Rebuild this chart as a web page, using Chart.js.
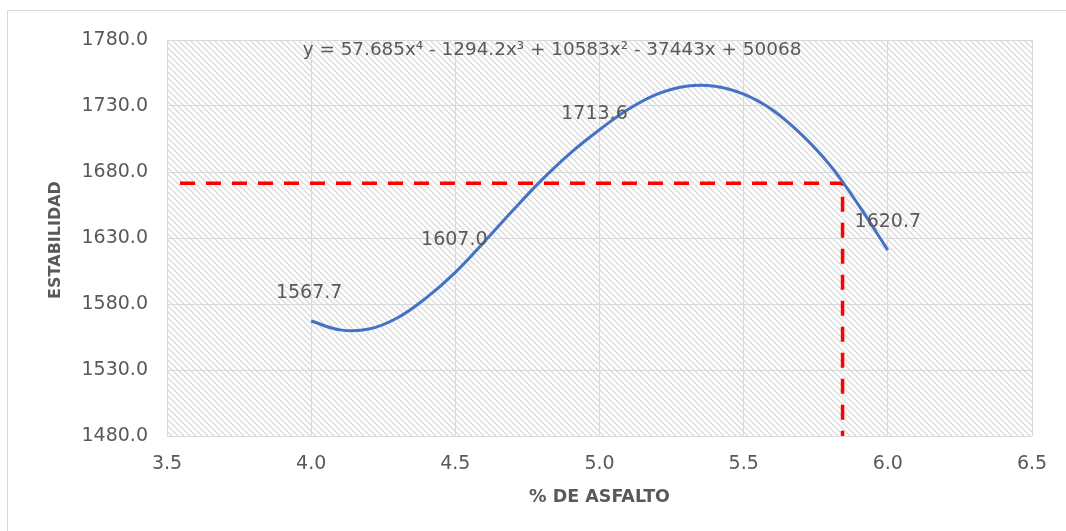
<!DOCTYPE html>
<html>
<head>
<meta charset="utf-8">
<script src="https://cdn.jsdelivr.net/npm/chart.js@4.4.1/dist/chart.umd.min.js"></script>
<style>
  html, body { margin: 0; padding: 0; background: #ffffff; }
  #wrap { width: 1066px; height: 531px; }
</style>
</head>
<body>
<div id="wrap"><canvas id="c" width="1066" height="531"></canvas></div>
<script>
// Trendline of stability vs. asphalt content, sampled along the fitted curve
const curvaAsfalto = [4.0, 4.1, 4.2, 4.3, 4.4, 4.5, 4.6, 4.7, 4.8, 4.9, 5.0, 5.1, 5.2, 5.3, 5.4, 5.5, 5.6, 5.7, 5.8, 5.9, 6.0];
const curvaEstabilidad = [1567.1, 1560.4, 1561.0, 1569.6, 1584.8, 1604.0, 1627.0, 1651.0, 1674.0, 1694.5, 1712.0, 1727.5, 1739.0, 1745.0, 1745.0, 1739.0, 1727.0, 1708.5, 1685.0, 1654.5, 1620.7];

// Labelled laboratory results
const puntosAsfalto = [4.0, 4.5, 5.0, 6.0];
const puntosEstabilidad = [1567.7, 1607.0, 1713.6, 1620.7];

// Design reading: stability at the chosen asphalt content
const disenoAsfalto = [3.545, 5.843, 5.843];
const disenoEstabilidad = [1671.4, 1671.4, 1480.0];

// Axis ticks
const ticksX = [3.5, 4.0, 4.5, 5.0, 5.5, 6.0, 6.5];
const ticksY = [1480, 1530, 1580, 1630, 1680, 1730, 1780];

const ecuacion = 'y = 57.685x\u2074 - 1294.2x\u00B3 + 10583x\u00B2 - 37443x + 50068';
const tituloX = '% DE ASFALTO';
const tituloY = 'ESTABILIDAD';

const toXY = (xs, ys) => xs.map((x, i) => ({ x: x, y: ys[i] }));

const GRIS = '#595959';
const FUENTE = '"DejaVu Sans", sans-serif';

// Diagonal hatch used as the plot-area fill
function hatchPattern(ctx) {
  const t = document.createElement('canvas');
  t.width = 6; t.height = 6;
  const g = t.getContext('2d');
  g.fillStyle = '#ffffff';
  g.fillRect(0, 0, 6, 6);
  g.strokeStyle = '#dadada';
  g.lineWidth = 1.3;
  g.beginPath();
  g.moveTo(-1, -1); g.lineTo(7, 7);
  g.moveTo(-4, 2); g.lineTo(4, 10);
  g.moveTo(2, -4); g.lineTo(10, 4);
  g.stroke();
  return ctx.createPattern(t, 'repeat');
}

const decor = {
  id: 'decor',
  beforeDraw(chart) {
    const { ctx, chartArea: a } = chart;
    ctx.save();
    ctx.fillStyle = '#ffffff';
    ctx.fillRect(0, 0, chart.width, chart.height);
    // outer frame
    ctx.strokeStyle = '#d9d9d9';
    ctx.lineWidth = 1;
    ctx.beginPath();
    ctx.moveTo(7.5, chart.height + 1);
    ctx.lineTo(7.5, 10.5);
    ctx.lineTo(chart.width + 1, 10.5);
    ctx.stroke();
    ctx.fillStyle = hatchPattern(ctx);
    ctx.fillRect(a.left, a.top, a.right - a.left, a.bottom - a.top);
    ctx.restore();
  },
  afterDraw(chart) {
    const { ctx, chartArea: a } = chart;
    ctx.save();
    ctx.fillStyle = GRIS;
    ctx.textAlign = 'center';
    ctx.textBaseline = 'middle';
    // trendline equation
    ctx.font = '18.4px ' + FUENTE;
    ctx.fillText(ecuacion, 552, 50);
    // axis titles
    ctx.font = 'bold 17.5px ' + FUENTE;
    ctx.fillText(tituloX, (a.left + a.right) / 2, 497);
    ctx.save();
    ctx.translate(56, (a.top + a.bottom) / 2 + 2);
    ctx.rotate(-Math.PI / 2);
    ctx.font = 'bold 16px ' + FUENTE;
    ctx.fillText(tituloY, 0, 0);
    ctx.restore();
    // value labels
    const meta = chart.getDatasetMeta(1);
    const offs = [[-2, -27], [-1, -28], [-5, -14], [0, -28]];
    ctx.font = '19px ' + FUENTE;
    meta.data.forEach((p, i) => {
      ctx.fillText(puntosEstabilidad[i].toFixed(1), p.x + offs[i][0], p.y + offs[i][1]);
    });
    ctx.restore();
  }
};

new Chart(document.getElementById('c'), {
  type: 'scatter',
  data: {
    datasets: [
      {
        label: 'Tendencia',
        data: toXY(curvaAsfalto, curvaEstabilidad),
        showLine: true,
        borderColor: '#4472C4',
        borderWidth: 3,
        pointRadius: 0,
        tension: 0.4,
        order: 0
      },
      {
        label: 'Estabilidad',
        data: toXY(puntosAsfalto, puntosEstabilidad),
        showLine: false,
        pointRadius: 0,
        order: 0
      },
      {
        label: 'Diseño',
        data: toXY(disenoAsfalto, disenoEstabilidad),
        showLine: true,
        borderColor: '#ff0000',
        borderWidth: 3.5,
        borderDash: [15, 11],
        pointRadius: 0,
        tension: 0,
        order: 1
      }
    ]
  },
  options: {
    responsive: false,
    animation: false,
    devicePixelRatio: 1,
    layout: { padding: { left: 0, top: 40, right: 34, bottom: 0 } },
    plugins: { legend: { display: false }, tooltip: { enabled: false } },
    scales: {
      x: {
        type: 'linear',
        min: ticksX[0],
        max: ticksX[ticksX.length - 1],
        afterBuildTicks: s => { s.ticks = ticksX.map(v => ({ value: v })); },
        afterFit: s => { s.height = 531 - 436; },
        grid: { color: '#d9d9d9', lineWidth: 1, drawTicks: false },
        border: { display: false },
        ticks: {
          padding: 17,
          color: GRIS,
          font: { family: FUENTE, size: 19 },
          callback: v => Number(v).toFixed(1)
        }
      },
      y: {
        type: 'linear',
        min: ticksY[0],
        max: ticksY[ticksY.length - 1],
        afterBuildTicks: s => { s.ticks = ticksY.map(v => ({ value: v })); },
        afterFit: s => { s.width = 167; },
        grid: { color: '#d9d9d9', lineWidth: 1, drawTicks: false },
        border: { display: false },
        ticks: {
          padding: 19,
          color: GRIS,
          font: { family: FUENTE, size: 19 },
          callback: v => Number(v).toFixed(1)
        }
      }
    }
  },
  plugins: [decor]
});
</script>
</body>
</html>
